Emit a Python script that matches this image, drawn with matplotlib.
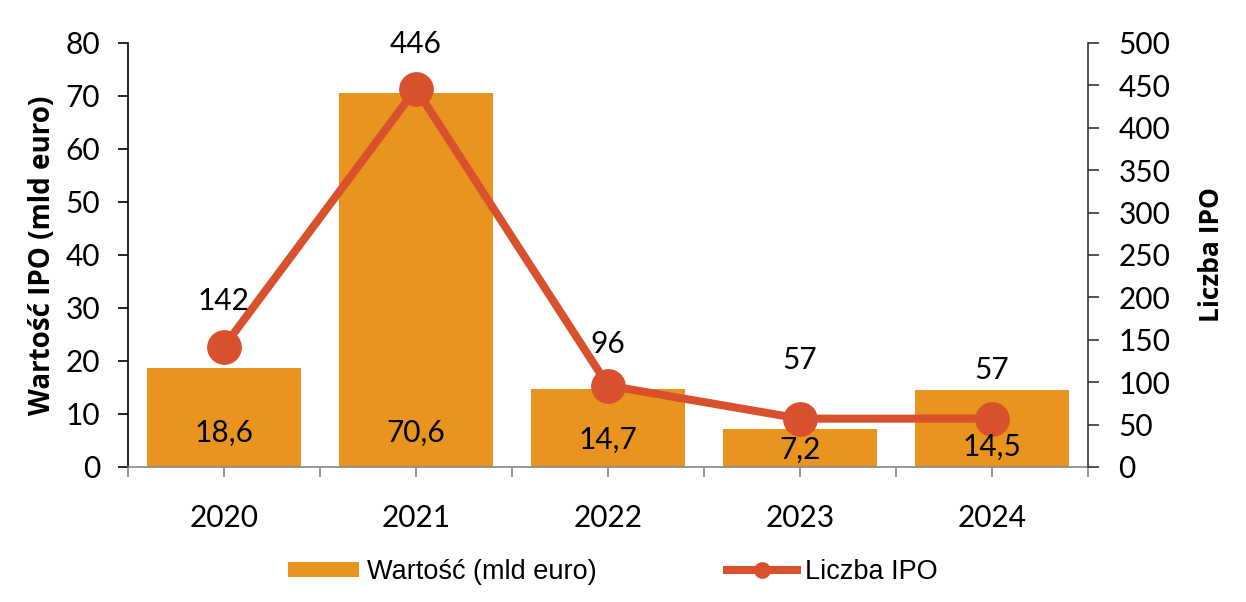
import matplotlib
matplotlib.use("Agg")
import matplotlib.pyplot as plt
from matplotlib.lines import Line2D
from matplotlib.patches import Patch
import numpy as np

# dane
lata = ["2020", "2021", "2022", "2023", "2024"]
wartosc = [18.6, 70.6, 14.7, 7.2, 14.5]      # mld euro
liczba_ipo = [142, 446, 96, 57, 57]

# kolory
kolor_slupki = "#E8941F"
kolor_linia = "#D9512C"

# pozycje etykiet (w jednostkach osi lewej / pikselach)
etykiety_slupkow_y = [6.5, 6.5, 5.2, 3.3, 3.9]
etykiety_linii_dy = [46, 45, 42, 59, 49]

plt.rcParams['font.family'] = ['Lato', 'DejaVu Sans']

fig = plt.figure(figsize=(12.46, 6.02), dpi=100)
ax1 = fig.add_axes([0.1027, 0.2243, 0.7705, 0.7043])
ax2 = ax1.twinx()

x = np.arange(len(lata))
ax1.bar(x, wartosc, width=0.8, color=kolor_slupki, zorder=1)
ax1.set_xlim(-0.5, len(lata) - 0.5)
ax1.set_ylim(0, 80)
ax1.set_yticks(np.arange(0, 81, 10))

ax2.plot(x, liczba_ipo, color=kolor_linia, linewidth=5.8, marker="o",
         markersize=24, zorder=3, solid_capstyle="round")
ax2.set_ylim(0, 500)
ax2.set_yticks(np.arange(0, 501, 50))

# etykiety linii
for xi, v, dy in zip(x, liczba_ipo, etykiety_linii_dy):
    ax2.annotate(str(v), (xi, v), xytext=(0, dy), textcoords="offset pixels",
                 ha="center", va="center", fontsize=21.5, color="black", zorder=5)

# etykiety słupków (nad linią)
for xi, v, yl in zip(x, wartosc, etykiety_slupkow_y):
    ax2.text(xi, yl, f"{v:.1f}".replace(".", ","), transform=ax1.transData,
             ha="center", va="center", fontsize=21.5, color="black", zorder=6)

# osie
for a in (ax1, ax2):
    a.spines["top"].set_visible(False)
ax1.spines["left"].set_color("black")
ax1.spines["left"].set_linewidth(1.2)
ax2.spines["right"].set_color("#333333")
ax2.spines["right"].set_linewidth(1.2)
ax1.spines["bottom"].set_color("#888888")
ax1.spines["bottom"].set_linewidth(1.2)
ax2.spines["bottom"].set_visible(False)
ax1.spines["right"].set_visible(False)
ax2.spines["left"].set_visible(False)

ax1.set_xticks(x)
ax1.set_xticklabels(lata)
ax1.set_xticks(np.arange(-0.5, len(lata), 1.0), minor=True)
ax1.tick_params(axis="x", which="both", length=7, width=1.2, color="#888888",
                direction="out")
ax1.tick_params(axis="x", which="major", labelsize=21.5, pad=20)
ax1.tick_params(axis="y", length=7, width=1.2, labelsize=21.5, pad=13)
ax2.tick_params(axis="y", length=8, width=1.2, labelsize=21.5, pad=14,
                color="#333333")

ax1.set_ylabel("Wartość IPO (mld euro)", fontsize=20, fontweight="bold",
               family=["Open Sans", "DejaVu Sans"], labelpad=6)
ax2.set_ylabel("Liczba IPO", fontsize=19, fontweight="bold",
               family=["Open Sans", "DejaVu Sans"], labelpad=20)

ax1.set_zorder(0)
ax2.set_zorder(1)
ax2.patch.set_visible(False)

# legenda
uchwyty = [
    Patch(facecolor=kolor_slupki, edgecolor="none"),
    Line2D([0], [0], color=kolor_linia, linewidth=5.8, marker="o", markersize=11),
]
fig.legend(uchwyty, ["Wartość (mld euro)", "Liczba IPO"], loc="center",
           bbox_to_anchor=(0.492, 0.05), ncol=2, frameon=False,
           prop={"family": ["Liberation Sans", "DejaVu Sans"], "size": 19.5},
           handlelength=2.6, handleheight=0.5, handletextpad=0.3,
           columnspacing=4.8)

fig.savefig("out.png", dpi=100)
